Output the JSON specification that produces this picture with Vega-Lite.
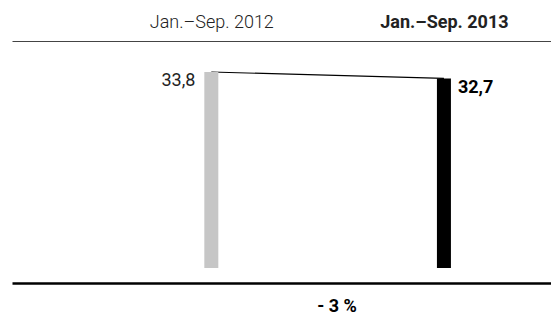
{
  "$schema": "https://vega.github.io/schema/vega-lite/v6.json",
  "width": 539,
  "height": 242,
  "padding": {"left": 12, "top": 41, "right": 0, "bottom": 35},
  "autosize": {"type": "none"},
  "background": "white",
  "config": {"view": {"stroke": null}, "font": "Roboto"},
  "data": {
    "values": [
      {"period": "Jan.–Sep. 2012", "year": 2012, "value": 33.8, "label": "33,8"},
      {"period": "Jan.–Sep. 2013", "year": 2013, "value": 32.7, "label": "32,7"}
    ]
  },
  "layer": [
    {
      "mark": {"type": "line", "color": "black", "strokeWidth": 1.2},
      "encoding": {
        "x": {
          "field": "year",
          "type": "quantitative",
          "scale": {"domain": [2011.1646, 2013.4388], "nice": false, "zero": false},
          "axis": {
            "orient": "top",
            "values": [2012, 2013],
            "title": null,
            "grid": false,
            "ticks": false,
            "tickSize": 0,
            "domain": true,
            "domainColor": "#444444",
            "domainWidth": 1.2,
            "labelExpr": "datum.value == 2012 ? 'Jan.–Sep. 2012' : 'Jan.–Sep. 2013'",
            "labelFont": "Roboto",
            "labelFontSize": 18,
            "labelColor": "#222222",
            "labelFontWeight": {"condition": {"test": "datum.value == 2013", "value": "bold"}, "value": 300},
            "labelBaseline": "alphabetic",
            "labelPadding": 14,
            "labelFlush": false,
            "labelOverlap": false
          }
        },
        "y": {
          "field": "value",
          "type": "quantitative",
          "scale": {"domain": [-2.587, 39.15], "nice": false, "zero": false},
          "axis": null
        }
      }
    },
    {
      "mark": {"type": "bar", "size": 14},
      "encoding": {
        "x": {
          "field": "year",
          "type": "quantitative",
          "axis": {
            "orient": "bottom",
            "values": [2012, 2013],
            "labels": false,
            "ticks": false,
            "grid": false,
            "domainColor": "black",
            "domainWidth": 2.5,
            "title": "- 3 %",
            "titleFont": "Roboto",
            "titleFontSize": 18,
            "titleFontWeight": "bold",
            "titleColor": "black",
            "titleX": 324.5,
            "titleY": 28,
            "titleBaseline": "alphabetic",
            "titleAlign": "center",
            "titleAnchor": null
          }
        },
        "y": {"field": "value", "type": "quantitative", "axis": null},
        "y2": {"datum": 0},
        "color": {
          "field": "year",
          "type": "nominal",
          "scale": {"domain": [2012, 2013], "range": ["#c6c6c6", "#000000"]},
          "legend": null
        }
      }
    },
    {
      "transform": [{"filter": "datum.year == 2012"}],
      "mark": {"type": "text", "align": "right", "baseline": "alphabetic", "dx": -16, "dy": 14, "fontSize": 18, "font": "Roboto", "fontWeight": 400, "color": "#222222"},
      "encoding": {
        "x": {"field": "year", "type": "quantitative", "axis": null},
        "y": {"field": "value", "type": "quantitative", "axis": null},
        "text": {"field": "label"}
      }
    },
    {
      "transform": [{"filter": "datum.year == 2013"}],
      "mark": {"type": "text", "align": "left", "baseline": "alphabetic", "dx": 14, "dy": 15, "fontSize": 18, "font": "Roboto", "fontWeight": "bold", "color": "#000000"},
      "encoding": {
        "x": {"field": "year", "type": "quantitative", "axis": null},
        "y": {"field": "value", "type": "quantitative", "axis": null},
        "text": {"field": "label"}
      }
    }
  ],
  "resolve": {"axis": {"x": "independent"}}
}
